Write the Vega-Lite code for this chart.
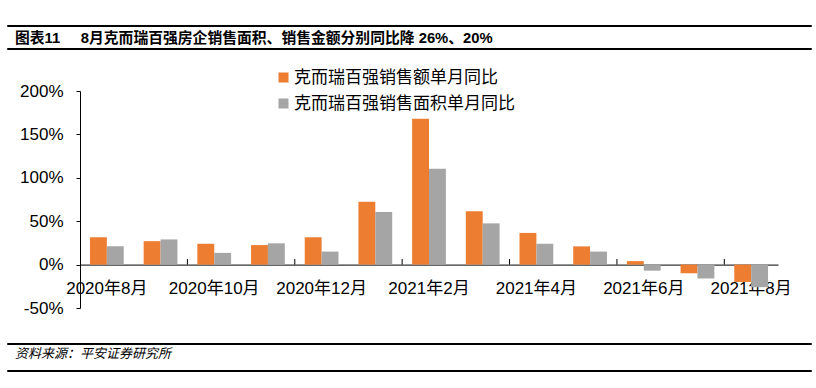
{
  "$schema": "https://vega.github.io/schema/vega-lite/v6.json",
  "background": "white",
  "padding": {"left": 6, "top": 24, "right": 0, "bottom": 0},
  "config": {
    "view": {"stroke": null},
    "font": "Liberation Sans, Noto Sans CJK SC",
    "title": {"color": "#000"}
  },
  "columns": 1,
  "spacing": 26,
  "resolve": {"legend": {"color": "independent"}, "scale": {"color": "independent"}},
  "concat": [
    {
      "columns": 1,
      "spacing": 19,
      "resolve": {"legend": {"color": "independent"}, "scale": {"color": "independent"}},
      "concat": [
        {
          "columns": 1,
          "spacing": 3,
          "concat": [
            {
              "width": 804, "height": 1,
              "view": {"stroke": "#000", "strokeWidth": 1},
              "data": {"values": []},
              "mark": "rule",
              "encoding": {}
            },
            {
              "width": 804, "height": 1,
              "view": {"stroke": "#000", "strokeWidth": 1},
              "title": {"text": "图表11\u00a0\u00a0\u00a0\u00a0\u00a08月克而瑞百强房企销售面积、销售金额分别同比降 26%、20%", "orient": "top", "anchor": "start", "offset": 2, "fontSize": 14.8, "fontWeight": "bold", "font": "Liberation Sans, Noto Sans CJK SC", "dx": 8},
              "data": {"values": []},
              "mark": "rule",
              "encoding": {}
            }
          ]
        },
        {
          "width": 804,
          "height": 217,
          "data": {"values": [
            {"month": "2020年8月", "series": "克而瑞百强销售额单月同比", "value": 31.5},
            {"month": "2020年9月", "series": "克而瑞百强销售额单月同比", "value": 27},
            {"month": "2020年10月", "series": "克而瑞百强销售额单月同比", "value": 24},
            {"month": "2020年11月", "series": "克而瑞百强销售额单月同比", "value": 22.5},
            {"month": "2020年12月", "series": "克而瑞百强销售额单月同比", "value": 31.5},
            {"month": "2021年1月", "series": "克而瑞百强销售额单月同比", "value": 72.5},
            {"month": "2021年2月", "series": "克而瑞百强销售额单月同比", "value": 168},
            {"month": "2021年3月", "series": "克而瑞百强销售额单月同比", "value": 61.5},
            {"month": "2021年4月", "series": "克而瑞百强销售额单月同比", "value": 36.5},
            {"month": "2021年5月", "series": "克而瑞百强销售额单月同比", "value": 21},
            {"month": "2021年6月", "series": "克而瑞百强销售额单月同比", "value": 4},
            {"month": "2021年7月", "series": "克而瑞百强销售额单月同比", "value": -10},
            {"month": "2021年8月", "series": "克而瑞百强销售额单月同比", "value": -20},
            {"month": "2020年8月", "series": "克而瑞百强销售面积单月同比", "value": 21},
            {"month": "2020年9月", "series": "克而瑞百强销售面积单月同比", "value": 29},
            {"month": "2020年10月", "series": "克而瑞百强销售面积单月同比", "value": 13.5},
            {"month": "2020年11月", "series": "克而瑞百强销售面积单月同比", "value": 24.5},
            {"month": "2020年12月", "series": "克而瑞百强销售面积单月同比", "value": 15},
            {"month": "2021年1月", "series": "克而瑞百强销售面积单月同比", "value": 60.5},
            {"month": "2021年2月", "series": "克而瑞百强销售面积单月同比", "value": 110.5},
            {"month": "2021年3月", "series": "克而瑞百强销售面积单月同比", "value": 47.5},
            {"month": "2021年4月", "series": "克而瑞百强销售面积单月同比", "value": 24},
            {"month": "2021年5月", "series": "克而瑞百强销售面积单月同比", "value": 15},
            {"month": "2021年6月", "series": "克而瑞百强销售面积单月同比", "value": -7},
            {"month": "2021年7月", "series": "克而瑞百强销售面积单月同比", "value": -16},
            {"month": "2021年8月", "series": "克而瑞百强销售面积单月同比", "value": -26}
          ]},
          "layer": [
            {
              "mark": {"type": "bar"},
              "encoding": {
                "x": {
                  "field": "month", "type": "nominal",
                  "sort": ["2020年8月","2020年9月","2020年10月","2020年11月","2020年12月","2021年1月","2021年2月","2021年3月","2021年4月","2021年5月","2021年6月","2021年7月","2021年8月"],
                  "scale": {"paddingInner": 0, "paddingOuter": 0, "range": [73, 771]},
                  "axis": {
                    "orient": "bottom", "offset": -43.4, "domain": true, "domainColor": "#000", "ticks": false,
                    "labelPadding": 24, "labelBaseline": "middle", "labelAngle": 0,
                    "labelFontSize": 17, "labelColor": "#000", "title": null,
                    "values": ["2020年8月","2020年10月","2020年12月","2021年2月","2021年4月","2021年6月","2021年8月"]
                  }
                },
                "xOffset": {
                  "field": "series", "type": "nominal",
                  "sort": ["克而瑞百强销售额单月同比", "克而瑞百强销售面积单月同比"],
                  "scale": {"paddingInner": 0, "paddingOuter": 0.59}
                },
                "y": {
                  "field": "value", "type": "quantitative",
                  "scale": {"domain": [-50, 200], "nice": false},
                  "axis": {
                    "values": [-50, 0, 50, 100, 150, 200],
                    "labelExpr": "datum.value + '%'",
                    "grid": false, "title": null, "offset": -73,
                    "domainColor": "#000", "tickColor": "#000", "tickSize": 4,
                    "labelPadding": 13, "labelFontSize": 17, "labelColor": "#000"
                  }
                },
                "color": {
                  "field": "series", "type": "nominal",
                  "scale": {"domain": ["克而瑞百强销售额单月同比", "克而瑞百强销售面积单月同比"], "range": ["#ED7D31", "#A5A5A5"]},
                  "legend": {
                    "title": null, "orient": "none", "legendX": 268, "legendY": -22,
                    "direction": "vertical", "symbolType": "square", "symbolSize": 100,
                    "symbolStrokeWidth": 0, "labelFontSize": 17, "labelColor": "#000",
                    "labelOffset": 2, "rowPadding": 8, "labelLimit": 400,
                    "labelFont": "Liberation Sans, Noto Sans CJK SC"
                  }
                }
              }
            },
            {
              "transform": [
                {"filter": {"field": "series", "equal": "克而瑞百强销售额单月同比"}},
                {"filter": {"field": "month", "oneOf": ["2020年10月","2020年12月","2021年2月","2021年4月","2021年6月","2021年8月"]}}
              ],
              "mark": {"type": "rule", "color": "#000", "strokeWidth": 1},
              "encoding": {
                "x": {
                  "field": "month", "type": "nominal", "bandPosition": 0,
                  "sort": ["2020年8月","2020年9月","2020年10月","2020年11月","2020年12月","2021年1月","2021年2月","2021年3月","2021年4月","2021年5月","2021年6月","2021年7月","2021年8月"]
                },
                "y": {"datum": 0, "type": "quantitative"},
                "y2": {"datum": 6.5}
              }
            }
          ]
        }
      ]
    },
    {
      "columns": 1,
      "spacing": 7,
      "concat": [
        {
          "width": 804, "height": 1,
          "view": {"stroke": "#000", "strokeWidth": 1},
          "title": {"text": "资料来源：平安证券研究所", "orient": "bottom", "anchor": "start", "offset": 4, "fontSize": 13, "fontStyle": "italic", "fontWeight": "normal", "font": "Liberation Sans, Noto Sans CJK SC", "dx": 8},
          "data": {"values": []},
          "mark": "rule",
          "encoding": {}
        },
        {
          "width": 804, "height": 1,
          "view": {"stroke": "#000", "strokeWidth": 1},
          "data": {"values": []},
          "mark": "rule",
          "encoding": {}
        }
      ]
    }
  ]
}
